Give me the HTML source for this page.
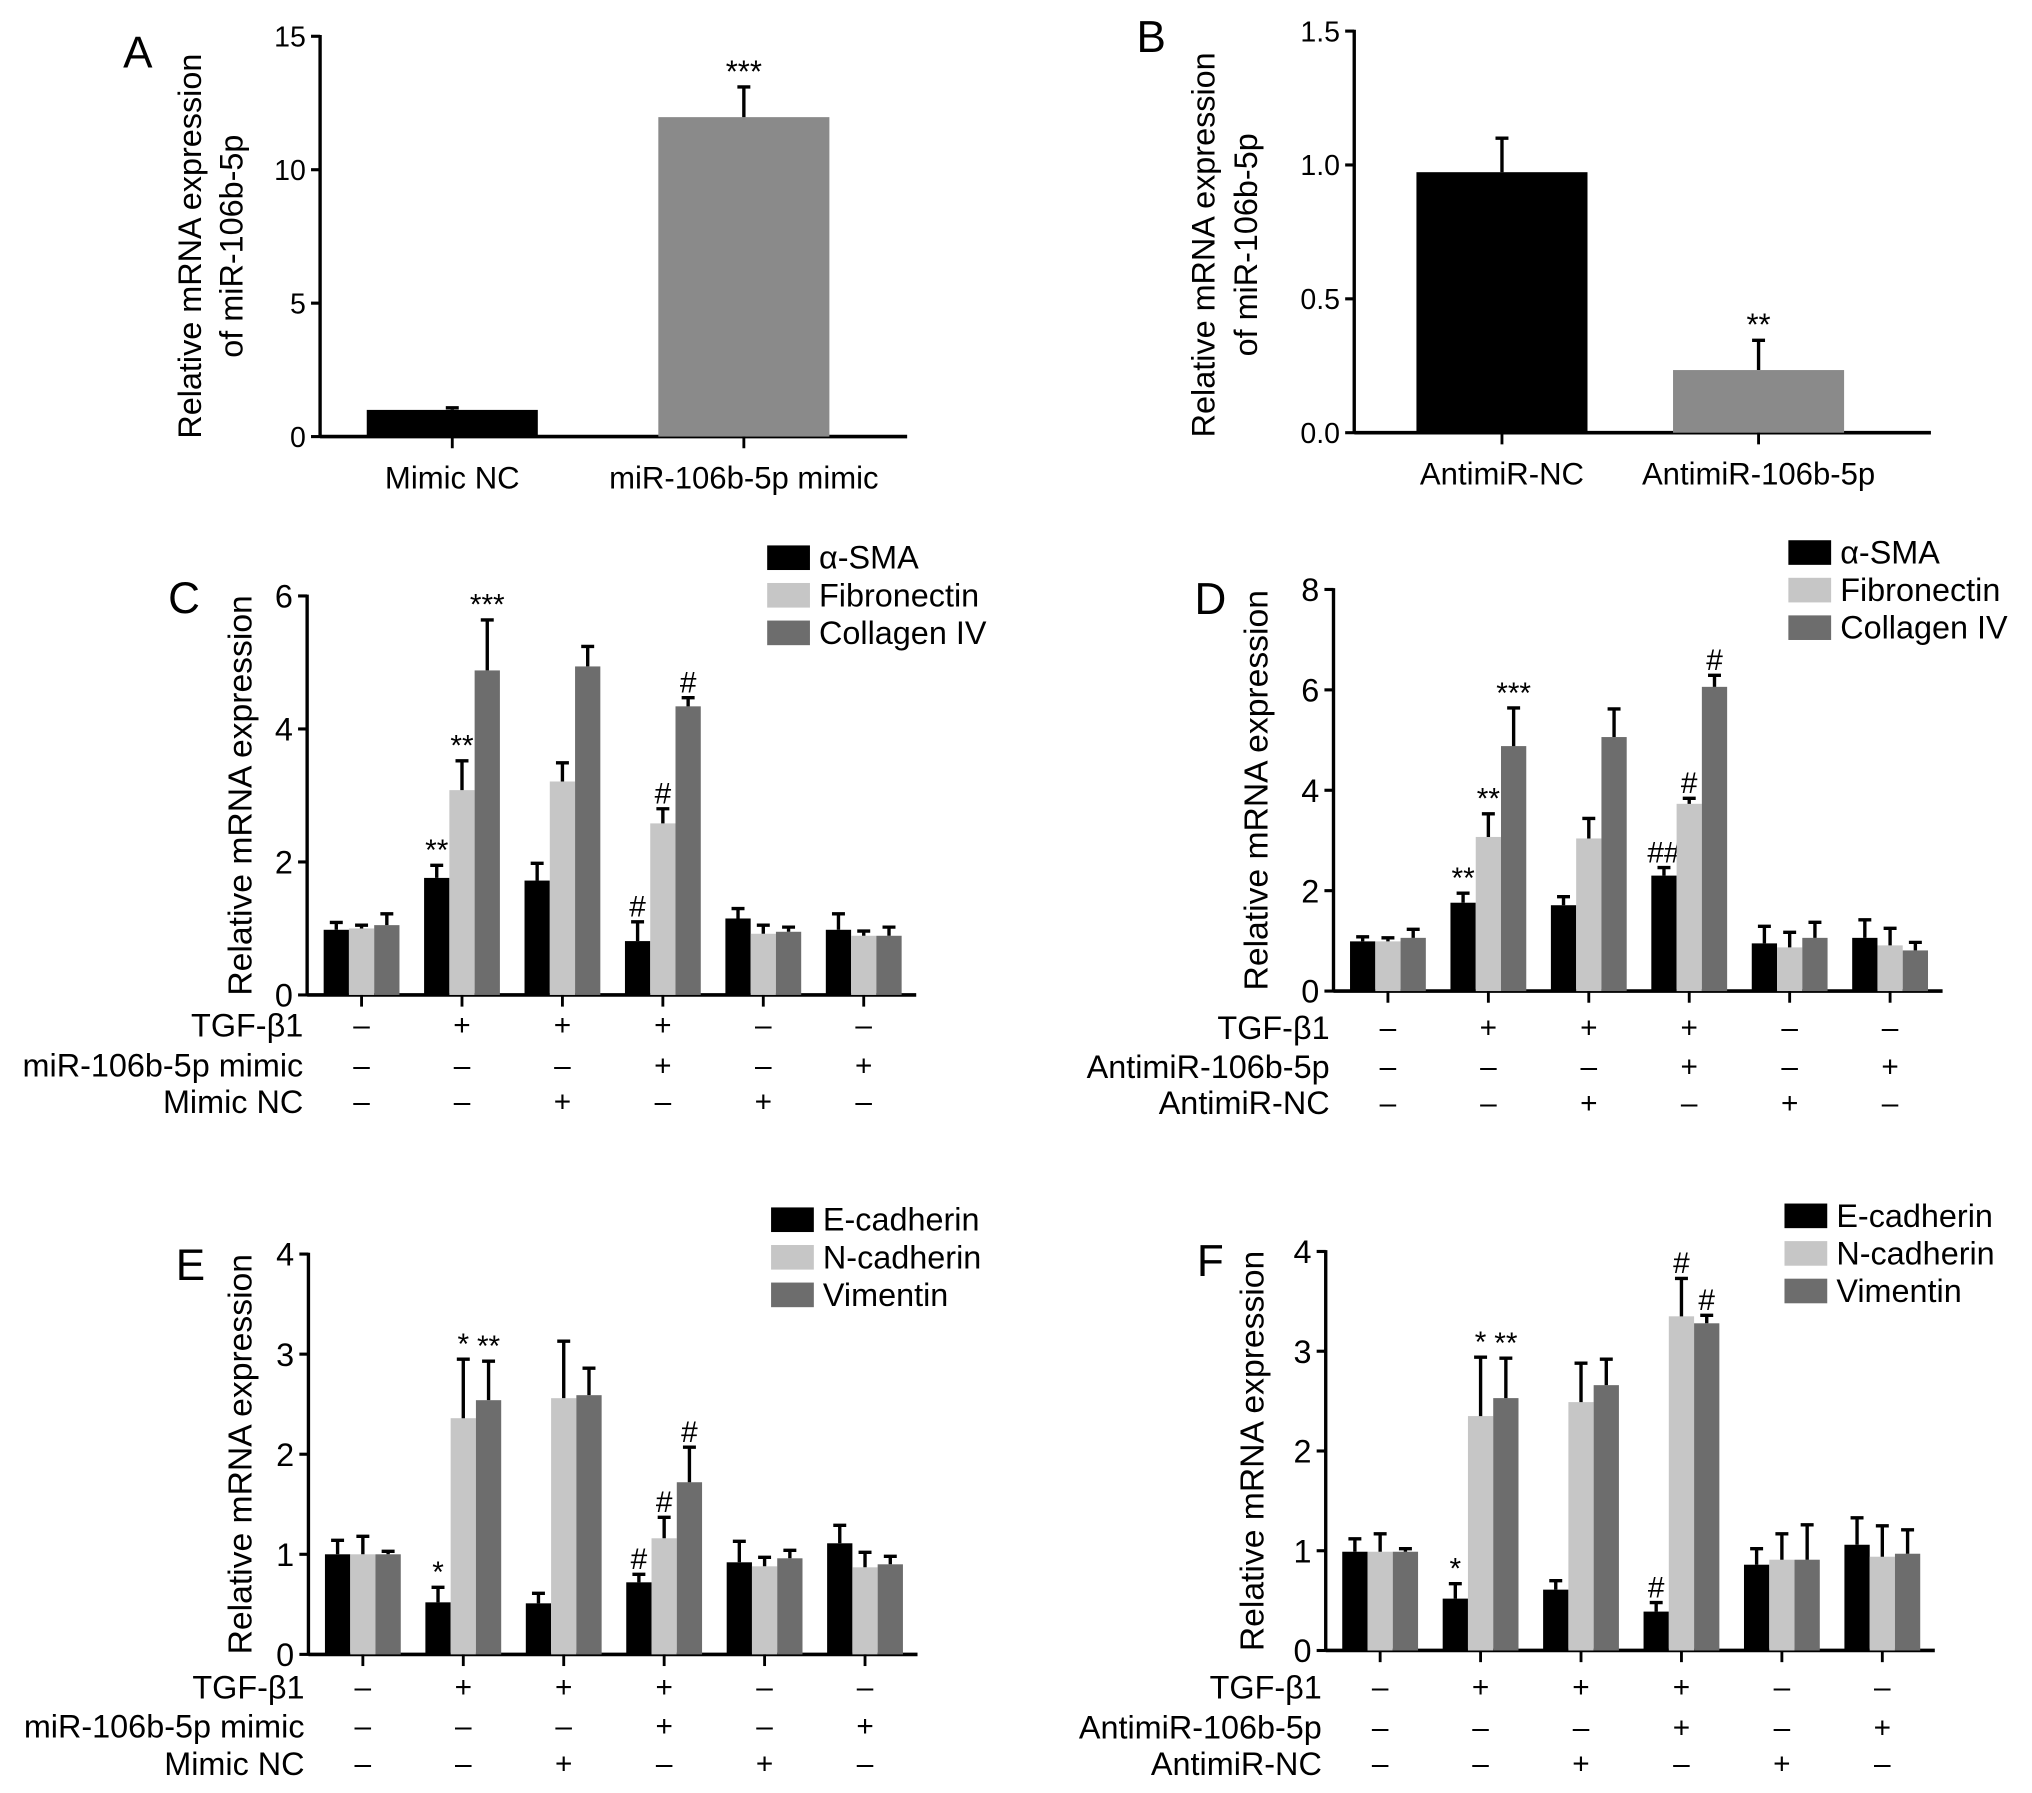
<!DOCTYPE html>
<html><head><meta charset="utf-8"><style>
html,body{margin:0;padding:0;background:#fff}
svg{display:block}
text{font-family:"Liberation Sans",Arial,sans-serif;fill:#000}
</style></head><body>
<svg id="fig" xmlns="http://www.w3.org/2000/svg" width="2032" height="1793" viewBox="0 0 1568 1384" preserveAspectRatio="none"></svg>
<script>
// ---- Panel A/B data ----
const aCategories = ["Mimic NC", "miR-106b-5p mimic"];
const aValues = [1.0, 11.97];
const aErrors = [1.08, 13.1];
const aSig = ["", "***"];
const aTicks = [0, 5, 10, 15];
const bCategories = ["AntimiR-NC", "AntimiR-106b-5p"];
const bValues = [0.973, 0.234];
const bErrors = [1.1, 0.345];
const bSig = ["", "**"];
const bTicks = ["0.0", "0.5", "1.0", "1.5"];

// ---- Panel C ----
const cSeries = ["α-SMA", "Fibronectin", "Collagen IV"];
const cBlack = [0.98, 1.76, 1.72, 0.81, 1.15, 0.98];
const cBlackErr = [1.09, 1.95, 1.98, 1.10, 1.30, 1.22];
const cLight = [1.0, 3.08, 3.21, 2.58, 0.92, 0.89];
const cLightErr = [1.05, 3.52, 3.49, 2.80, 1.05, 0.96];
const cDark = [1.05, 4.88, 4.94, 4.34, 0.95, 0.89];
const cDarkErr = [1.22, 5.64, 5.24, 4.47, 1.02, 1.02];
const cSig = [["","",""],["**","**","***"],["","",""],["#","#","#"],["","",""],["","",""]];
const cTicks = [0, 2, 4, 6];
// ---- Panel D ----
const dBlack = [0.99, 1.76, 1.71, 2.30, 0.95, 1.06];
const dBlackErr = [1.08, 1.95, 1.88, 2.46, 1.29, 1.42];
const dLight = [0.99, 3.07, 3.04, 3.73, 0.87, 0.91];
const dLightErr = [1.06, 3.53, 3.44, 3.84, 1.17, 1.25];
const dDark = [1.06, 4.88, 5.06, 6.06, 1.06, 0.81];
const dDarkErr = [1.23, 5.64, 5.62, 6.29, 1.37, 0.97];
const dSig = [["","",""],["**","**","***"],["","",""],["##","#","#"],["","",""],["","",""]];
const dTicks = [0, 2, 4, 6, 8];
// ---- Panel E ----
const eSeries = ["E-cadherin", "N-cadherin", "Vimentin"];
const eBlack = [1.0, 0.52, 0.51, 0.72, 0.92, 1.11];
const eBlackErr = [1.14, 0.67, 0.61, 0.80, 1.13, 1.29];
const eLight = [1.0, 2.36, 2.56, 1.16, 0.88, 0.87];
const eLightErr = [1.18, 2.95, 3.13, 1.37, 0.97, 1.02];
const eDark = [1.0, 2.54, 2.59, 1.72, 0.96, 0.90];
const eDarkErr = [1.03, 2.93, 2.86, 2.07, 1.04, 0.98];
const eSig = [["","",""],["*","*","**"],["","",""],["#","#","#"],["","",""],["","",""]];
const eTicks = [0, 1, 2, 3, 4];
// ---- Panel F ----
const fBlack = [0.99, 0.52, 0.61, 0.39, 0.86, 1.06];
const fBlackErr = [1.12, 0.67, 0.70, 0.48, 1.02, 1.33];
const fLight = [0.99, 2.35, 2.49, 3.35, 0.91, 0.94];
const fLightErr = [1.17, 2.94, 2.88, 3.73, 1.17, 1.25];
const fDark = [0.99, 2.53, 2.66, 3.28, 0.91, 0.97];
const fDarkErr = [1.02, 2.93, 2.92, 3.36, 1.26, 1.21];
const fSig = [["","",""],["*","*","**"],["","",""],["#","#","#"],["","",""],["","",""]];
const fTicks = [0, 1, 2, 3, 4];

// ---- treatment rows ----
const tgf = ["–","+","+","+","–","–"];
const treat2 = ["–","–","–","+","–","+"];
const treat3 = ["–","–","+","–","+","–"];

const NS = "http://www.w3.org/2000/svg";
const svg = document.getElementById("fig");
const COLORS = ["#000000", "#c6c6c6", "#6d6d6d"];

function mk(tag, attrs, parent, txt) {
  const e = document.createElementNS(NS, tag);
  for (const k in attrs) e.setAttribute(k, attrs[k]);
  if (txt !== undefined) e.textContent = txt;
  (parent || svg).appendChild(e);
  return e;
}
function group(name) {
  const g = mk("g", {});
  
  
  return g;
}
function errBar(g, x, yTop, yErr, name) {
  const e = mk("path", {d: `M${x},${yTop} V${yErr} M${x-5},${yErr} H${x+5}`, stroke: "#000", "stroke-width": 2.6, fill: "none"}, g);
  
  
}

function yAxis(g, ax, y0, yT, ticks, max, fs) {
  const sy = v => y0 - (v / max) * (y0 - yT);
  const l = mk("line", {x1: ax, y1: yT - 1, x2: ax, y2: y0 + 1, stroke: "#000", "stroke-width": 2.6}, g);
  
  
  ticks.forEach(t => {
    const v = parseFloat(t);
    const y = sy(v);
    mk("line", {x1: ax - 7, y1: y, x2: ax, y2: y, stroke: "#000", "stroke-width": 2.4}, g);
    const tx = mk("text", {x: ax - 11, y: y + fs * 0.36, "text-anchor": "end", "font-size": fs}, g, String(t));
    
    
  });
  return sy;
}

function simplePanel(p) {
  const g = group(p.name);
  const sy = yAxis(g, p.ax, p.y0, p.yT, p.ticks, p.max, 22);
  const xl = mk("line", {x1: p.ax, y1: p.y0, x2: p.xEnd, y2: p.y0, stroke: "#000", "stroke-width": 2.8}, g);
  
  
  p.cats.forEach((c, i) => {
    const x0 = p.barX[i], w = p.barW, cx = x0 + w / 2;
    const r = mk("rect", {x: x0, y: sy(p.vals[i]), width: w, height: p.y0 - sy(p.vals[i]), fill: p.colors[i]}, g);
    
    
    errBar(g, cx, sy(p.vals[i]), sy(p.errs[i]), 'error-bar');
    if (p.sig[i]) {
      const s = mk("text", {x: cx, y: sy(p.errs[i]) - 4, "text-anchor": "middle", "font-size": 24}, g, p.sig[i]);
      
      
    }
    mk("line", {x1: cx, y1: p.y0, x2: cx, y2: p.y0 + 9, stroke: "#000", "stroke-width": 2.2}, g);
    const t = mk("text", {x: cx, y: p.y0 + 40, "text-anchor": "middle", "font-size": 24}, g, c);
    
    
  });
  const L = mk("text", {x: p.letter[0], y: p.letter[1], "font-size": 34}, g, p.letterText);
  
  
  p.titles.forEach((tt, k) => {
    const t = mk("text", {x: 0, y: 0, "text-anchor": "middle", "font-size": 25, transform: `translate(${p.titleX[k]},${p.titleY}) rotate(-90)`}, g, tt);
    
    
  });
}

simplePanel({name: "panel-a", ax: 247, y0: 337, yT: 28, max: 15, ticks: aTicks, xEnd: 700,
  cats: aCategories, vals: aValues, errs: aErrors, sig: aSig, barX: [283, 508], barW: 132,
  colors: ["#000", "#8a8a8a"], letter: [95, 52], letterText: "A",
  titles: ["Relative mRNA expression", "of miR-106b-5p"], titleX: [155, 187], titleY: 190});
simplePanel({name: "panel-b", ax: 1045, y0: 334, yT: 24, max: 1.5, ticks: bTicks, xEnd: 1490,
  cats: bCategories, vals: bValues, errs: bErrors, sig: bSig, barX: [1093, 1291], barW: 132,
  colors: ["#000", "#8a8a8a"], letter: [877, 40], letterText: "B",
  titles: ["Relative mRNA expression", "of miR-106b-5p"], titleX: [937, 970], titleY: 189});

function groupedPanel(p) {
  const g = group(p.name);
  const sy = yAxis(g, p.ax, p.y0, p.yT, p.ticks, p.max, 25);
  const xl = mk("line", {x1: p.ax, y1: p.y0, x2: p.ax + 470, y2: p.y0, stroke: "#000", "stroke-width": 2.8}, g);
  
  
  const bw = 19.5;
  const series = [[p.black, p.blackErr], [p.light, p.lightErr], [p.dark, p.darkErr]];
  for (let i = 0; i < 6; i++) {
    const cx = p.ax + 42 + i * 77.5;
    series.forEach((s, k) => {
      const x0 = cx - 1.5 * bw + k * bw;
      const v = s[0][i], e = s[1][i];
      const r = mk("rect", {x: x0, y: sy(v), width: bw, height: p.y0 - sy(v), fill: COLORS[k]}, g);
      
      
      errBar(g, x0 + bw / 2, sy(v), sy(e), 'error-bar');
      if (p.sig[i][k]) {
        const st = mk("text", {x: x0 + bw / 2, y: sy(e) - 4, "text-anchor": "middle", "font-size": 23}, g, p.sig[i][k]);
        
        
      }
    });
    mk("line", {x1: cx, y1: p.y0, x2: cx, y2: p.y0 + 9, stroke: "#000", "stroke-width": 2.2}, g);
    [tgf, treat2, treat3].forEach((row, r) => {
      const t = mk("text", {x: cx, y: p.rowY[r] + 8, "text-anchor": "middle", "font-size": 23}, g, row[i]);
      
      
    });
  }
  p.rowLabels.forEach((lab, r) => {
    const t = mk("text", {x: p.ax - 3, y: p.rowY[r] + 9, "text-anchor": "end", "font-size": 25}, g, lab);
    
    
  });
  p.series.forEach((s, k) => {
    const y = p.legY + k * 29;
    const r = mk("rect", {x: p.legX, y: y - 9, width: 33, height: 19, fill: COLORS[k]}, g);
    
    
    const t = mk("text", {x: p.legX + 40, y: y + 9, "font-size": 25}, g, s);
    
    
  });
  const L = mk("text", {x: p.letter[0], y: p.letter[1], "font-size": 34, "text-anchor": "middle"}, g, p.letterText);
  
  
  const t = mk("text", {x: 0, y: 0, "text-anchor": "middle", "font-size": 26, transform: `translate(${p.titleX},${(p.y0 + p.yT) / 2}) rotate(-90)`}, g, "Relative mRNA expression");
  
  
}

groupedPanel({name: "panel-c", ax: 237, y0: 768, yT: 460, max: 6, ticks: cTicks, series: cSeries,
  black: cBlack, blackErr: cBlackErr, light: cLight, lightErr: cLightErr, dark: cDark, darkErr: cDarkErr, sig: cSig,
  rowY: [791, 822, 850], rowLabels: ["TGF-β1", "miR-106b-5p mimic", "Mimic NC"],
  legX: 592, legY: 430, letter: [142, 473], letterText: "C", titleX: 194});
groupedPanel({name: "panel-d", ax: 1029, y0: 765, yT: 455, max: 8, ticks: dTicks, series: cSeries,
  black: dBlack, blackErr: dBlackErr, light: dLight, lightErr: dLightErr, dark: dDark, darkErr: dDarkErr, sig: dSig,
  rowY: [793, 823, 851], rowLabels: ["TGF-β1", "AntimiR-106b-5p", "AntimiR-NC"],
  legX: 1380, legY: 426, letter: [934, 474], letterText: "D", titleX: 978});
groupedPanel({name: "panel-e", ax: 238, y0: 1277, yT: 968, max: 4, ticks: eTicks, series: eSeries,
  black: eBlack, blackErr: eBlackErr, light: eLight, lightErr: eLightErr, dark: eDark, darkErr: eDarkErr, sig: eSig,
  rowY: [1302, 1332, 1361], rowLabels: ["TGF-β1", "miR-106b-5p mimic", "Mimic NC"],
  legX: 595, legY: 941, letter: [147, 988], letterText: "E", titleX: 194});
groupedPanel({name: "panel-f", ax: 1023, y0: 1274, yT: 966, max: 4, ticks: fTicks, series: eSeries,
  black: fBlack, blackErr: fBlackErr, light: fLight, lightErr: fLightErr, dark: fDark, darkErr: fDarkErr, sig: fSig,
  rowY: [1302, 1333, 1361], rowLabels: ["TGF-β1", "AntimiR-106b-5p", "AntimiR-NC"],
  legX: 1377, legY: 938, letter: [934, 985], letterText: "F", titleX: 975});
</script>
</body></html>
